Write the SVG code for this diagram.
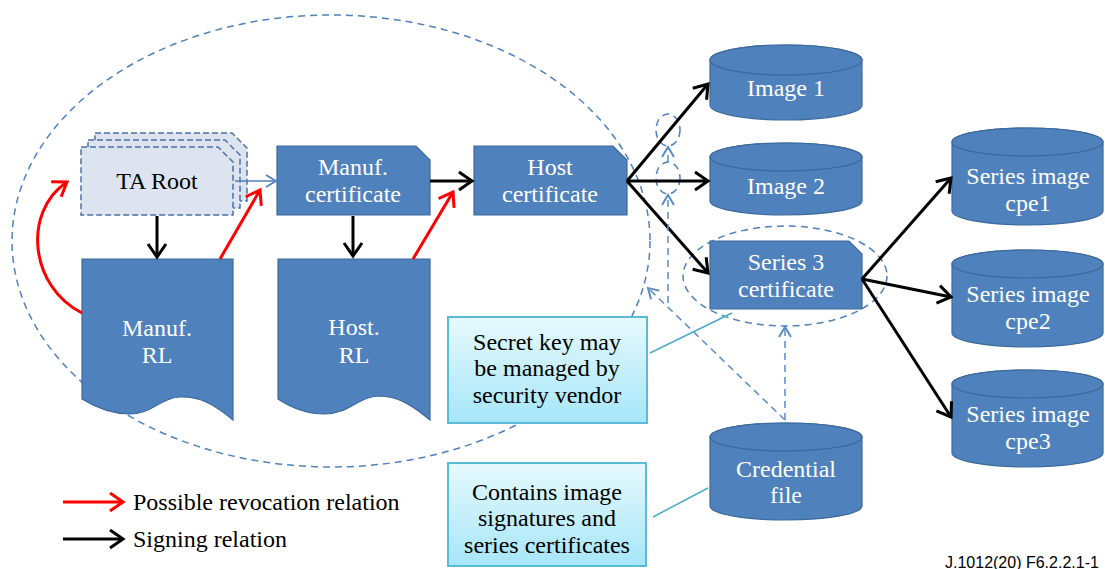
<svg xmlns="http://www.w3.org/2000/svg" width="1105" height="569" viewBox="0 0 1105 569">
<style>
.node{fill:#4f81bd;stroke:#3c6a9c;stroke-width:1.2}
.ta{fill:#dde4ef;stroke:#4a72a8;stroke-width:1.5;stroke-dasharray:6 3}
.wt{font-family:"Liberation Serif","Times New Roman",serif;font-size:24px;fill:#ffffff;text-anchor:middle}
.bt{font-family:"Liberation Serif","Times New Roman",serif;font-size:24px;fill:#000000;text-anchor:middle}
.lt{font-family:"Liberation Serif","Times New Roman",serif;font-size:24px;fill:#000000}
.sig{stroke:#000;stroke-width:3;fill:none;marker-end:url(#mb)}
.rev{stroke:#ff0000;stroke-width:3;fill:none;marker-end:url(#mr)}
.dash{stroke:#4f81bd;stroke-width:1.5;fill:none;stroke-dasharray:7 5}
.darr{stroke:#5b8cc6;stroke-width:1.5;fill:none;stroke-dasharray:7 5;marker-end:url(#md)}
.callout{fill:url(#cg);stroke:#5bbad4;stroke-width:2}
.lead{stroke:#4bacc6;stroke-width:1.5;fill:none}
</style>
<defs>
<marker id="mb" markerUnits="userSpaceOnUse" viewBox="0 0 18 22" refX="15" refY="11" markerWidth="18" markerHeight="22" orient="auto"><path d="M2,2 L15,11 L2,20" fill="none" stroke="#000" stroke-width="3"/></marker>
<marker id="mr" markerUnits="userSpaceOnUse" viewBox="0 0 18 22" refX="15" refY="11" markerWidth="18" markerHeight="22" orient="auto"><path d="M2,2 L15,11 L2,20" fill="none" stroke="#ff0000" stroke-width="3"/></marker>
<marker id="md" markerUnits="userSpaceOnUse" viewBox="0 0 14 16" refX="12" refY="8" markerWidth="14" markerHeight="16" orient="auto"><path d="M2,2 L12,8 L2,14" fill="none" stroke="#5b8cc6" stroke-width="2"/></marker>
<marker id="mbl" markerUnits="userSpaceOnUse" viewBox="0 0 14 16" refX="12" refY="8" markerWidth="14" markerHeight="16" orient="auto"><path d="M2,2 L12,8 L2,14" fill="none" stroke="#4f81bd" stroke-width="1.8"/></marker>
<linearGradient id="cg" x1="0" y1="0" x2="0" y2="1"><stop offset="0" stop-color="#e6f9fd"/><stop offset="1" stop-color="#a6e6f8"/></linearGradient>
</defs>
<rect width="1105" height="569" fill="#ffffff"/>

<g id="group-ellipses">
<ellipse cx="331" cy="241" rx="319" ry="226" class="dash"/>
<ellipse cx="668" cy="130" rx="12" ry="16" class="dash"/>
<ellipse cx="668" cy="178" rx="12" ry="16" class="dash"/>
<ellipse cx="785" cy="276" rx="102" ry="50" class="dash"/>
</g>

<g id="ta-root">
<path class="ta" d="M95,133 H232 L247,148 V201 H95 Z"/>
<path class="ta" d="M88,140 H225 L240,155 V208 H88 Z"/>
<path class="ta" d="M81,147 H218 L233,162 V215 H81 Z"/>
<text class="bt" x="157" y="189">TA Root</text>
</g>

<g id="manuf-cert">
<path class="node" d="M277,146 H416 L430,160 V215 H277 Z"/>
<text class="wt" x="353" y="175">Manuf.</text>
<text class="wt" x="353" y="202">certificate</text>
</g>

<g id="host-cert">
<path class="node" d="M474,146 H613 L627,160 V215 H474 Z"/>
<text class="wt" x="550" y="175">Host</text>
<text class="wt" x="550" y="202">certificate</text>
</g>

<g id="manuf-rl">
<path class="node" d="M82,259 H233 V420 C215,405 200,396 180,397 C160,398 152,414 130,414 C110,414 95,407 82,399 Z"/>
<text class="wt" x="157" y="336">Manuf.</text>
<text class="wt" x="157" y="363">RL</text>
</g>

<g id="host-rl">
<path class="node" d="M278,259 H430 V420 C412,405 398,396 378,396 C358,397 348,414 325,414 C305,414 290,407 278,399 Z"/>
<text class="wt" x="354" y="335">Host.</text>
<text class="wt" x="354" y="363">RL</text>
</g>

<g id="image1">
<path class="node" d="M710,60 A76,15 0 0 1 862,60 V105 A76,15 0 0 1 710,105 Z"/>
<ellipse class="node" cx="786" cy="60" rx="76" ry="15"/>
<text class="wt" x="786" y="96">Image 1</text>
</g>

<g id="image2">
<path class="node" d="M710,157 A76,14 0 0 1 862,157 V201 A76,14 0 0 1 710,201 Z"/>
<ellipse class="node" cx="786" cy="157" rx="76" ry="14"/>
<text class="wt" x="786" y="194">Image 2</text>
</g>

<g id="series3-cert">
<path class="node" d="M710,241 H849 L862,254 V309 H710 Z"/>
<text class="wt" x="786" y="270">Series 3</text>
<text class="wt" x="786" y="297">certificate</text>
</g>

<g id="credential-file">
<path class="node" d="M710,437 A76,14 0 0 1 862,437 V506 A76,14 0 0 1 710,506 Z"/>
<ellipse class="node" cx="786" cy="437" rx="76" ry="14"/>
<text class="wt" x="786" y="477">Credential</text>
<text class="wt" x="786" y="503">file</text>
</g>

<g id="cpe1">
<path class="node" d="M952,142 A75.5,14 0 0 1 1103,142 V211 A75.5,14 0 0 1 952,211 Z"/>
<ellipse class="node" cx="1027.5" cy="142" rx="75.5" ry="14"/>
<text class="wt" x="1028" y="184">Series image</text>
<text class="wt" x="1028" y="211">cpe1</text>
</g>

<g id="cpe2">
<path class="node" d="M952,264 A75.5,14 0 0 1 1103,264 V333 A75.5,14 0 0 1 952,333 Z"/>
<ellipse class="node" cx="1027.5" cy="264" rx="75.5" ry="14"/>
<text class="wt" x="1028" y="302">Series image</text>
<text class="wt" x="1028" y="329">cpe2</text>
</g>

<g id="cpe3">
<path class="node" d="M952,384 A75.5,14 0 0 1 1103,384 V453 A75.5,14 0 0 1 952,453 Z"/>
<ellipse class="node" cx="1027.5" cy="384" rx="75.5" ry="14"/>
<text class="wt" x="1028" y="422">Series image</text>
<text class="wt" x="1028" y="449">cpe3</text>
</g>

<g id="callout-secret">
<rect class="callout" x="448" y="317" width="199" height="106"/>
<text class="bt" x="547" y="350">Secret key may</text>
<text class="bt" x="547" y="376">be managed by</text>
<text class="bt" x="547" y="403">security vendor</text>
</g>

<g id="callout-contains">
<rect class="callout" x="448" y="463" width="198" height="103"/>
<text class="bt" x="547" y="500">Contains image</text>
<text class="bt" x="547" y="526">signatures and</text>
<text class="bt" x="547" y="553">series certificates</text>
</g>

<g id="connectors">
<line x1="235" y1="181" x2="276" y2="181" stroke="#4f81bd" stroke-width="1.5" marker-end="url(#mbl)"/>
<line class="sig" x1="157" y1="216" x2="157" y2="257"/>
<line class="sig" x1="353" y1="216" x2="353" y2="256"/>
<line class="sig" x1="430" y1="181" x2="472" y2="181"/>
<line class="sig" x1="627" y1="181" x2="708" y2="84"/>
<line class="sig" x1="627" y1="181" x2="708" y2="181"/>
<line class="sig" x1="627" y1="181" x2="708" y2="273"/>
<line class="sig" x1="862" y1="279" x2="951" y2="178"/>
<line class="sig" x1="862" y1="279" x2="951" y2="297"/>
<line class="sig" x1="862" y1="279" x2="951" y2="417"/>
<path class="rev" d="M82,313 C30,287 22,212 67,182"/>
<line class="rev" x1="220" y1="259" x2="260" y2="190"/>
<line class="rev" x1="413" y1="259" x2="453" y2="192"/>
<line class="darr" x1="785" y1="420" x2="785" y2="327"/>
<line class="darr" x1="785" y1="420" x2="648" y2="288"/>
<line class="darr" x1="668" y1="303" x2="668" y2="195"/>
<line class="darr" x1="668" y1="162" x2="668" y2="147"/>
<line class="lead" x1="650" y1="353" x2="732" y2="313"/>
<line class="lead" x1="653" y1="517" x2="708" y2="488"/>
</g>

<g id="legend">
<line class="rev" x1="63" y1="502" x2="123" y2="502"/>
<text class="lt" x="133" y="510">Possible revocation relation</text>
<line class="sig" x1="63" y1="539" x2="123" y2="539"/>
<text class="lt" x="133" y="547">Signing relation</text>
</g>

<text x="945" y="568" font-family="'Liberation Sans',Arial,sans-serif" font-size="16" fill="#000">J.1012(20) F6.2.2.1-1</text>
</svg>
